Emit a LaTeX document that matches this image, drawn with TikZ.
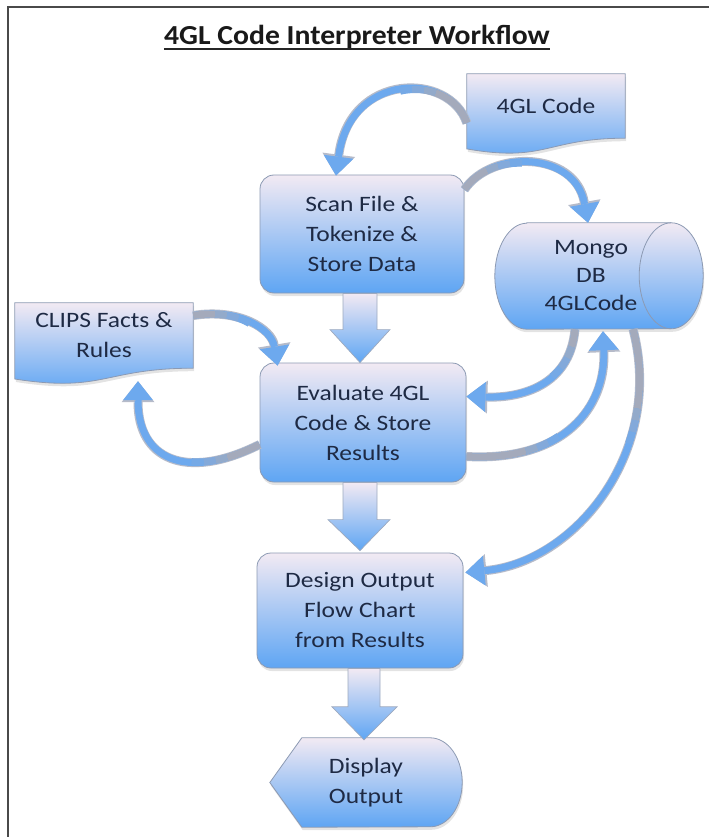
\documentclass[tikz,border=0pt]{standalone}
\usepackage{fontspec}
\setmainfont{Carlito}[FakeStretch=1.16]
\newfontfamily\titlefont{Carlito}[FakeStretch=1.08]
\usetikzlibrary{calc,arrows.meta,shadows,backgrounds}

\definecolor{boxtop}{HTML}{F2EAF3}
\definecolor{boxmid}{HTML}{B2D1F6}
\definecolor{boxbot}{HTML}{5EA5F3}
\definecolor{boxedge}{HTML}{8C9AB3}
\definecolor{ink}{HTML}{1E2A44}
\definecolor{ribbonblue}{HTML}{6DA9EE}
\definecolor{ribbongray}{HTML}{A4AABB}
\definecolor{framegray}{HTML}{4A4A4A}

\begin{document}
\begin{tikzpicture}[x=1pt,y=1pt,
  shade3/.style={top color=boxtop, middle color=boxmid, bottom color=boxbot},
  softshadow/.style={drop shadow={shadow xshift=1pt, shadow yshift=-3pt, opacity=0.22}},
  procbox/.style={rectangle, rounded corners=14pt, draw=boxedge, line width=0.8pt,
    shade3, softshadow, minimum width=204pt, minimum height=118pt,
    align=center, text=ink, font=\fontsize{22}{30}\selectfont},
  textonly/.style={inner sep=0pt, align=center, text=ink, font=\fontsize{22}{30}\selectfont},
  outline/.style={draw=boxedge, line width=0.8pt, shade3, softshadow},
  blockarrow/.style={draw=boxedge!85, line width=0.7pt, top color=boxtop, bottom color=boxbot},
  % curved arrow: blue band with a grey lower face fading out from its start
  ribbon/.style={draw=ribbonblue, line width=7pt,
    -{Triangle[width=30pt,length=19pt,line width=0pt]},
    preaction={draw=ribbongray!80, line width=9pt,
      -{Triangle[width=33pt,length=21pt,line width=0pt]}},
    postaction={draw=ribbongray, line width=7pt, -, dash pattern=on #1 off 3000pt},
    postaction={draw=ribbongray!70!ribbonblue, line width=7pt, -,
      dash pattern=on 0pt off #1 on 12pt off 3000pt},
    postaction={draw=ribbongray!40!ribbonblue, line width=7pt, -,
      dash pattern=on 0pt off #1 on 0pt off 12pt on 12pt off 3000pt},
    postaction={draw=ribbongray!15!ribbonblue, line width=7pt, -,
      dash pattern=on 0pt off #1 on 0pt off 24pt on 12pt off 3000pt}},
  ribbon/.default=30pt
]
\useasboundingbox (0,0) rectangle (709,-837);

% frame
\draw[framegray, line width=1.2pt] (8,-837) -- (8,-7) -- (709,-7);

% title
\node[anchor=base, inner sep=0pt, font=\titlefont\bfseries\fontsize{27.5}{30}\selectfont, text=black!90]
  (title) at (357,-45) {4GL Code Interpreter Workflow};
\draw[black!85, line width=1.6pt] ($(title.base west)+(0,-4)$) -- ($(title.base east)+(0,-4)$);

% process boxes
\node[procbox] (scan) at (362,-234) {Scan File \&\\Tokenize \&\\Store Data};
\node[procbox, minimum width=206pt, minimum height=119pt] (eval) at (363,-422.5)
  {Evaluate 4GL\\Code \& Store\\Results};
\node[procbox, minimum width=206pt, minimum height=115pt] (design) at (360,-610.5)
  {Design Output\\Flow Chart\\from Results};

% text areas of the non-rectangular shapes
\node[textonly, minimum width=158pt, minimum height=64pt] (code) at (546,-106) {4GL Code};
\node[textonly, minimum width=178pt, minimum height=65pt] (clips) at (104,-335.5)
  {CLIPS Facts \&\\Rules};
\node[textonly, minimum width=192pt, minimum height=106pt, font=\fontsize{22}{28}\selectfont]
  (mongo) at (591,-276) {Mongo\\DB\\4GLCode};
\node[textonly, minimum width=192pt, minimum height=89pt] (disp) at (366,-782.5)
  {Display\\Output};

\begin{scope}[on background layer]
  % document shapes with wavy bottom
  \path[outline] (code.north west) -- (code.north east) -- (code.south east)
    .. controls (code.south) and ($(code.south)+(0,-24.6)$) ..
    ($(code.south west)+(0,-10.7)$) -- cycle;
  \path[outline] (clips.north west) -- (clips.north east) -- (clips.south east)
    .. controls (clips.south) and ($(clips.south)+(0,-24.8)$) ..
    ($(clips.south west)+(0,-10.8)$) -- cycle;
  % database cylinder
  \path[outline] ($(mongo.north west)+(32,0)$) -- ($(mongo.north east)+(-16,0)$)
    arc[start angle=90, end angle=-90, x radius=32, y radius=53]
    -- ($(mongo.south west)+(32,0)$)
    arc[start angle=270, end angle=90, x radius=32, y radius=53] -- cycle;
  \draw[boxedge, line width=0.8pt] ($(mongo.north east)+(-16,0)$)
    arc[start angle=90, end angle=270, x radius=32, y radius=53];
  % display shape
  \path[outline] (disp.west) -- ($(disp.north west)+(32,0)$) -- ($(disp.north east)+(-32,0)$)
    arc[start angle=90, end angle=-90, x radius=32, y radius=44.5]
    -- ($(disp.south west)+(32,0)$) -- cycle;
\end{scope}

% straight block arrows
\path[blockarrow] let \p1=(scan.south), \p2=(eval.north) in
  (\x1-19pt,\y1) -- (\x1+15pt,\y1) -- (\x1+15pt,\y2+33pt) -- (\x1+28pt,\y2+33pt)
  -- (\x1-2pt,\y2) -- (\x1-32pt,\y2+33pt) -- (\x1-19pt,\y2+33pt) -- cycle;
\path[blockarrow] let \p1=(eval.south), \p2=(design.north) in
  (\x1-20pt,\y1) -- (\x1+14pt,\y1) -- (\x1+14pt,\y2+33pt) -- (\x1+27pt,\y2+33pt)
  -- (\x1-3pt,\y2+2pt) -- (\x1-35pt,\y2+33pt) -- (\x1-20pt,\y2+33pt) -- cycle;
\path[blockarrow] let \p1=(design.south), \p2=(disp.north) in
  (\x1-12pt,\y1) -- (\x1+20pt,\y1) -- (\x1+20pt,\y2+31pt) -- (\x1+37pt,\y2+31pt)
  -- (\x1+4pt,\y2-2pt) -- (\x1-28pt,\y2+31pt) -- (\x1-12pt,\y2+31pt) -- cycle;

% curved ribbon arrows
\draw[ribbon=45pt] ($(code.west)+(0,-17)$) .. controls +(-17,51) and +(14,104) ..
  ($(scan.north)+(-26,-1)$);
\draw[ribbon=30pt] ($(scan.north east)+(0,-15)$) .. controls +(27,40) and +(-13,72) ..
  ($(mongo.north)+(-3,0)$);
\draw[ribbon=22pt] ($(clips.east)+(0,20)$) .. controls +(47,7.5) and +(-6,36) ..
  ($(eval.north west)+(18,-3)$);
\draw[ribbon=35pt] ($(eval.west)+(0,-22)$) .. controls +(-75,-37.5) and +(0,-77) ..
  ($(clips.south)+(34,-13)$);
\draw[ribbon=18pt] ($(mongo.south)+(-16,0)$) .. controls +(-5,-57) and +(54,-1.5) ..
  ($(eval.east)+(0,26)$);
\draw[ribbon=60pt] ($(eval.east)+(0,-34)$) .. controls +(99,-5.5) and +(3,-75) ..
  ($(mongo.south)+(12,-2)$);
\draw[ribbon=80pt] ($(mongo.south)+(42,0)$) .. controls +(32,-122) and +(110,10.5) ..
  ($(design.east)+(2,38)$);
\end{tikzpicture}
\end{document}
